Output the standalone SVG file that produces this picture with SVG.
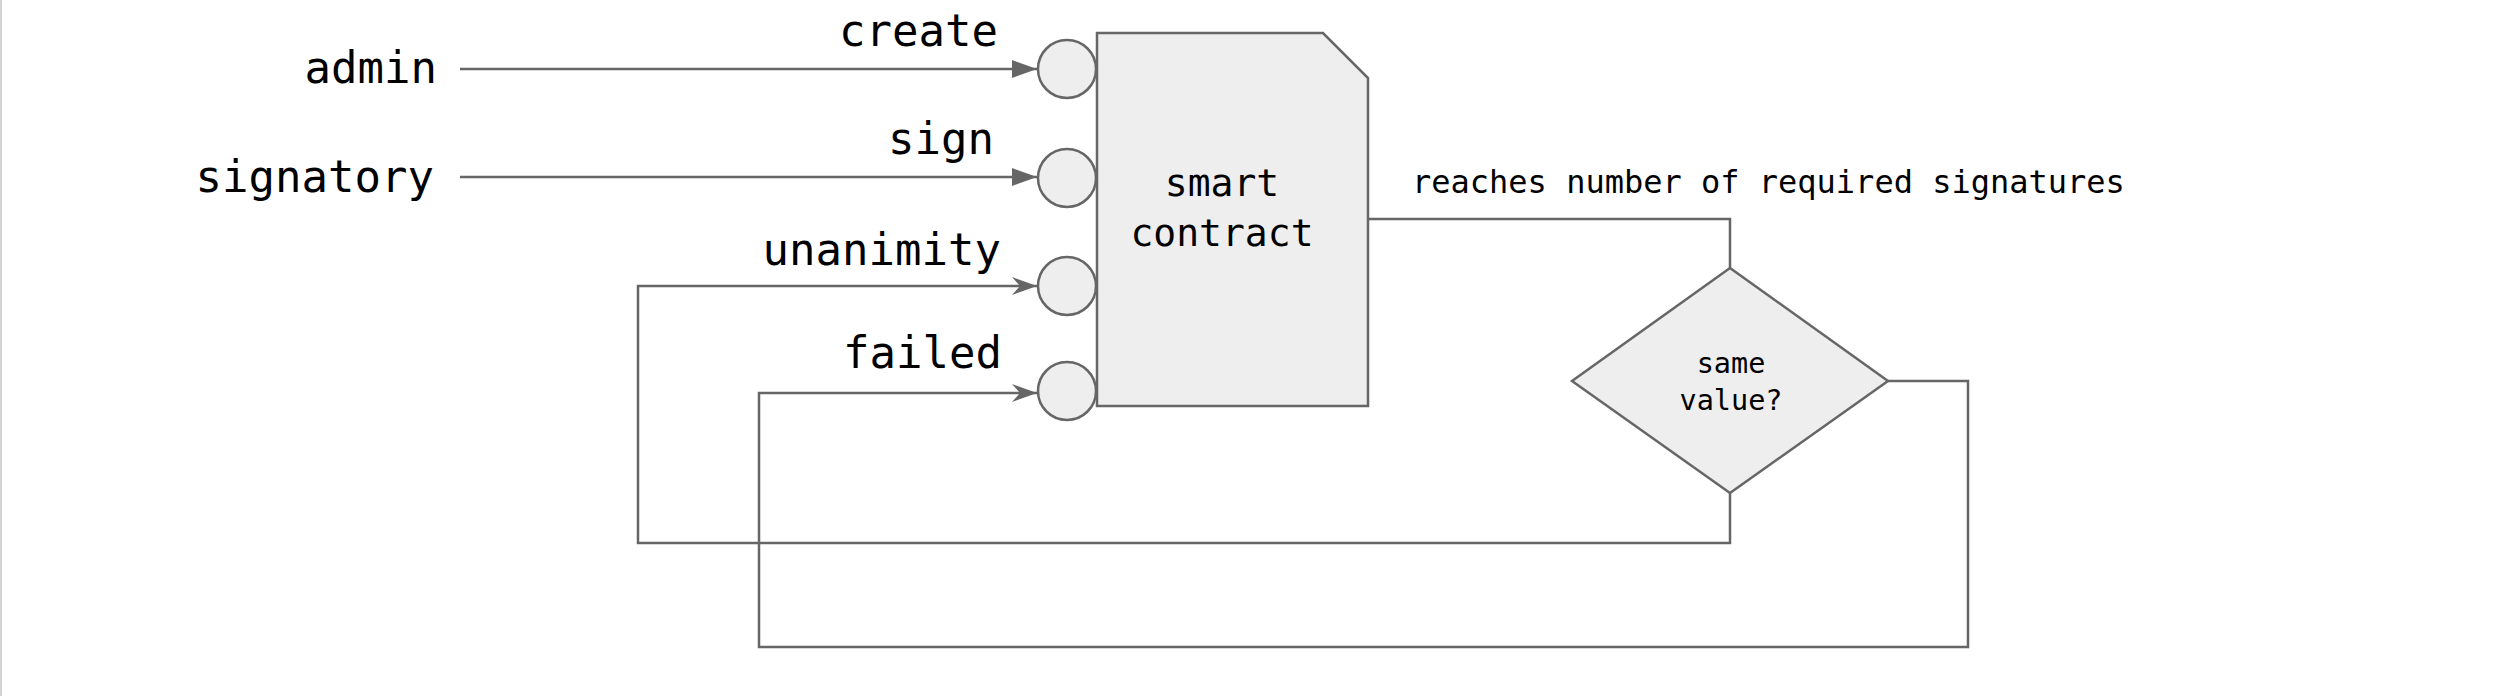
<svg xmlns="http://www.w3.org/2000/svg" width="2512" height="696" viewBox="0 0 2512 696">
  <style>
    .shape { fill: #eeeeee; stroke: #666666; stroke-width: 2.5; }
    .edge { fill: none; stroke: #666666; stroke-width: 2.5; }
    .lbl { font-family: "DejaVu Sans Mono", "Liberation Mono", monospace; fill: #000000; }
    .big { font-size: 44px; text-anchor: end; }
    .mid { font-size: 38px; text-anchor: middle; }
    .small { font-size: 28.5px; text-anchor: middle; }
    .edgelbl { font-size: 32px; }
  </style>
  <defs>
    <marker id="block" markerUnits="userSpaceOnUse" viewBox="0 0 25 18" refX="25" refY="9" markerWidth="25" markerHeight="18" orient="auto">
      <path d="M0,0 L25,9 L0,18 Z" fill="#666666"/>
    </marker>
    <marker id="classic" markerUnits="userSpaceOnUse" viewBox="0 0 25 18" refX="25" refY="9" markerWidth="25" markerHeight="18" orient="auto">
      <path d="M0,0 L25,9 L0,18 L8,9 Z" fill="#666666"/>
    </marker>
  </defs>
  <rect x="0" y="0" width="2" height="696" fill="#d3d3d3"/>

  <g id="admin">
    <text class="lbl big" x="437" y="83">admin</text>
  </g>
  <g id="signatory">
    <text class="lbl big" x="434" y="192">signatory</text>
  </g>

  <g id="smart-contract">
    <path class="shape" d="M1097,33 H1323 L1368,78 V406 H1097 Z"/>
    <text class="lbl mid" x="1222" y="196">smart</text>
    <text class="lbl mid" x="1222" y="246">contract</text>
  </g>
  <g id="port-create">
    <circle class="shape" cx="1067" cy="69" r="29"/>
  </g>
  <g id="port-sign">
    <circle class="shape" cx="1067" cy="178" r="29"/>
  </g>
  <g id="port-unanimity">
    <circle class="shape" cx="1067" cy="286" r="29"/>
  </g>
  <g id="port-failed">
    <circle class="shape" cx="1067" cy="391" r="29"/>
  </g>

  <g id="same-value">
    <path class="shape" d="M1730,268 L1888,381 L1730,493 L1572,381 Z"/>
    <text class="lbl small" x="1731" y="373">same</text>
    <text class="lbl small" x="1731" y="410">value?</text>
  </g>

  <g id="connectors">
    <path class="edge" d="M460,69 H1037" marker-end="url(#block)"/>
    <path class="edge" d="M460,177 H1037" marker-end="url(#block)"/>
    <path class="edge" d="M1368,219 H1730 V268"/>
    <path class="edge" d="M1730,493 V543 H638 V286 H1037" marker-end="url(#classic)"/>
    <path class="edge" d="M1888,381 H1968 V647 H759 V393 H1037" marker-end="url(#classic)"/>
    <text class="lbl big" x="998" y="46">create</text>
    <text class="lbl big" x="994" y="154">sign</text>
    <text class="lbl big" x="1001" y="265">unanimity</text>
    <text class="lbl big" x="1002" y="368">failed</text>
    <text class="lbl edgelbl" x="1412" y="193">reaches number of required signatures</text>
  </g>
</svg>
